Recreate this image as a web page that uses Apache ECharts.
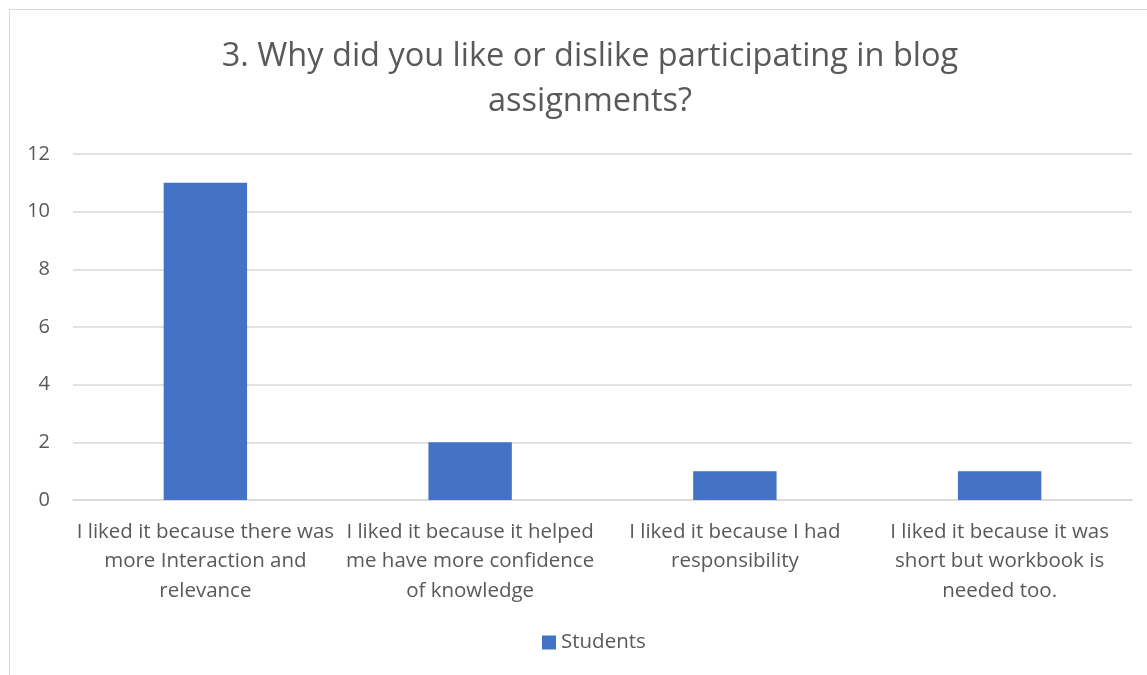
<!DOCTYPE html>
<html>
<head>
<meta charset="utf-8">
<script src="https://cdn.jsdelivr.net/npm/echarts@6/dist/echarts.min.js"></script>
<style>
html,body{margin:0;padding:0;background:#fff;}
#frame{position:absolute;left:9px;top:9px;width:1160px;height:700px;border:1px solid #d9d9d9;box-sizing:border-box;}
#chart{position:absolute;left:0;top:0;width:1147px;height:675px;}
</style>
</head>
<body>
<div id="frame"></div>
<div id="chart"></div>
<script>
const titleText = "3. Why did you like or dislike participating in blog\nassignments?";
const categories = [
  "I liked it because there was\nmore Interaction and\nrelevance",
  "I liked it because it helped\nme have more confidence\nof knowledge",
  "I liked it because I had\nresponsibility",
  "I liked it because it was\nshort but workbook is\nneeded too."
];
const seriesName = "Students";
const values = [11, 2, 1, 1];
const yMin = 0, yMax = 12, yStep = 2;

const FONT = "'Open Sans', sans-serif";
const chart = echarts.init(document.getElementById('chart'), null, {renderer: 'canvas'});
chart.setOption({
  backgroundColor: 'transparent',
  animation: false,
  title: {
    text: titleText,
    left: 585, top: 29, textAlign: 'center',
    textStyle: {fontFamily: FONT, fontSize: 32.5, fontWeight: 'normal', color: '#595959', lineHeight: 45}
  },
  legend: {
    data: [seriesName],
    bottom: 17, left: 537,
    itemWidth: 14, itemHeight: 14, itemGap: 6,
    icon: 'rect',
    textStyle: {fontFamily: FONT, fontSize: 20.5, color: '#595959'}
  },
  grid: {left: 73, right: 15, top: 154, bottom: 175, containLabel: false},
  xAxis: {
    type: 'category',
    data: categories,
    axisLine: {show: true, lineStyle: {color: '#d9d9d9', width: 1.5}},
    axisTick: {show: false},
    axisLabel: {interval: 0, fontFamily: FONT, fontSize: 20.5, color: '#595959', lineHeight: 29.5, margin: 17}
  },
  yAxis: {
    type: 'value',
    min: yMin, max: yMax, interval: yStep,
    axisLine: {show: false},
    axisTick: {show: false},
    axisLabel: {fontFamily: FONT, fontSize: 20, color: '#595959', margin: 23},
    splitLine: {lineStyle: {color: '#d9d9d9', width: 1.5}}
  },
  series: [{
    name: seriesName,
    type: 'bar',
    data: values,
    barWidth: '31.5%',
    itemStyle: {color: '#4472c4'}
  }]
});
</script>
</body>
</html>
